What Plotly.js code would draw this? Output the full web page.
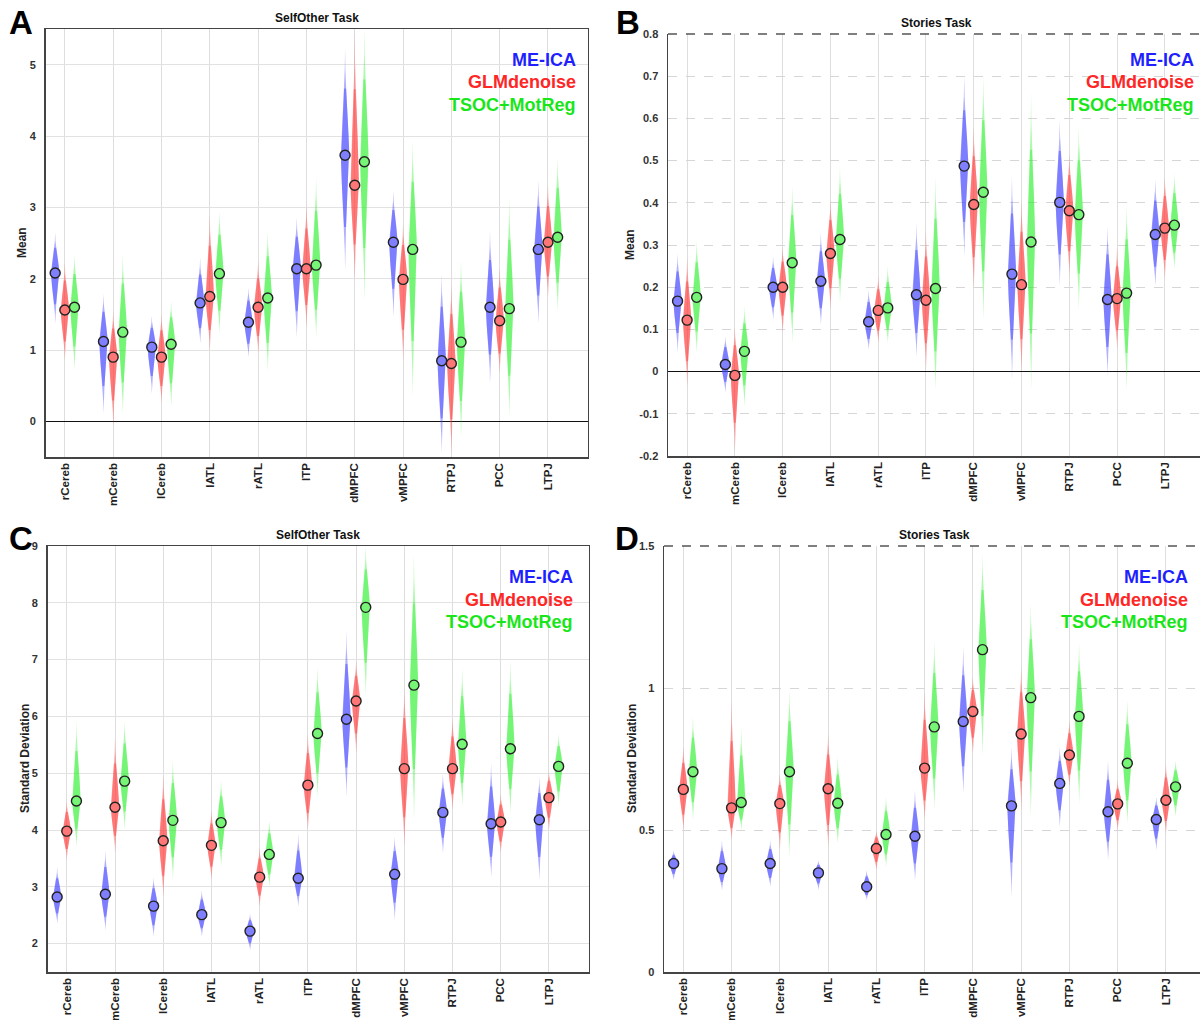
<!DOCTYPE html>
<html>
<head>
<meta charset="utf-8">
<script src="https://cdn.plot.ly/plotly-3.0.1.min.js"></script>
<style>html,body{margin:0;padding:0;overflow:hidden;background:#fff;}#chart{width:1210px;height:1020px;}</style>
</head>
<body>
<div id="chart"></div>
<script>
// ---------- DATA ----------
const regions = ['rCereb','mCereb','lCereb','lATL','rATL','lTP','dMPFC','vMPFC','RTPJ','PCC','LTPJ'];
const methods = ['ME-ICA','GLMdenoise','TSOC+MotReg'];

// Panel A: SelfOther Task, Mean
const A_meica_mean = [2.08,1.12,1.04,1.66,1.39,2.14,3.73,2.51,0.85,1.60,2.41];
const A_meica_hi   = [2.65,1.79,1.48,2.30,1.88,2.86,5.24,3.24,2.07,2.67,3.38];
const A_meica_lo   = [1.37,0.11,0.39,1.09,0.90,1.18,2.11,1.46,-0.45,0.53,1.37];
const A_glm_mean   = [1.56,0.90,0.90,1.75,1.60,2.14,3.31,1.99,0.81,1.41,2.51];
const A_glm_hi     = [2.23,1.55,1.51,2.90,2.25,3.05,5.48,2.77,1.93,2.16,3.33];
const A_glm_lo     = [0.85,-0.08,0.25,0.99,0.95,1.32,1.97,0.85,-0.45,0.67,1.74];
const A_tsoc_mean  = [1.60,1.25,1.08,2.07,1.73,2.19,3.64,2.41,1.11,1.58,2.58];
const A_tsoc_hi    = [2.35,2.35,1.69,2.95,2.67,3.42,5.50,3.94,2.25,3.14,3.70];
const A_tsoc_lo    = [0.71,0.11,0.20,1.23,0.71,1.18,1.69,0.34,-0.22,0.06,1.55];

// Panel B: Stories Task, Mean
const B_meica_mean = [0.167,0.017,0.200,0.214,0.118,0.182,0.487,0.231,0.401,0.171,0.325];
const B_meica_hi   = [0.280,0.084,0.273,0.329,0.194,0.353,0.700,0.463,0.597,0.344,0.455];
const B_meica_lo   = [0.045,-0.050,0.123,0.111,0.052,0.036,0.273,-0.019,0.202,-0.011,0.202];
const B_glm_mean   = [0.122,-0.009,0.200,0.280,0.145,0.169,0.396,0.206,0.381,0.173,0.340];
const B_glm_hi     = [0.270,0.107,0.297,0.408,0.226,0.336,0.580,0.408,0.518,0.297,0.463];
const B_glm_lo     = [-0.035,-0.190,0.092,0.147,0.068,0.005,0.194,-0.003,0.226,0.052,0.218];
const B_tsoc_mean  = [0.176,0.048,0.258,0.313,0.151,0.197,0.425,0.307,0.372,0.186,0.347];
const B_tsoc_hi    = [0.310,0.155,0.440,0.487,0.250,0.463,0.700,0.660,0.580,0.392,0.470];
const B_tsoc_lo    = [0.045,-0.082,0.068,0.163,0.068,-0.043,0.123,-0.043,0.147,-0.043,0.242];

// Panel C: SelfOther Task, Standard Deviation
const C_meica_mean = [2.82,2.87,2.66,2.51,2.22,3.15,5.95,3.22,4.31,4.11,4.18];
const C_meica_hi   = [3.35,3.64,3.17,2.94,2.53,3.94,7.52,3.88,4.99,5.17,4.94];
const C_meica_lo   = [2.35,2.23,2.12,2.12,1.88,2.65,4.58,2.41,3.59,3.17,3.12];
const C_glm_mean   = [3.98,4.40,3.81,3.73,3.17,4.79,6.27,5.08,5.08,4.14,4.57];
const C_glm_hi     = [4.52,5.64,4.99,4.35,3.70,5.70,6.99,6.52,5.99,4.64,5.05];
const C_glm_lo     = [3.47,3.59,2.82,3.12,2.65,4.00,5.35,3.70,4.35,3.59,4.00];
const C_tsoc_mean  = [4.51,4.86,4.17,4.13,3.57,5.70,7.92,6.55,5.51,5.43,5.12];
const C_tsoc_hi    = [5.93,5.93,5.23,4.88,4.17,6.87,9.00,8.87,6.87,6.99,5.70];
const C_tsoc_lo    = [3.70,4.00,3.12,3.35,3.00,4.58,6.35,4.17,4.41,4.29,4.41];

// Panel D: Stories Task, Standard Deviation
const D_meica_mean = [0.382,0.364,0.382,0.349,0.300,0.478,0.882,0.585,0.664,0.564,0.537];
const D_meica_hi   = [0.429,0.464,0.464,0.394,0.358,0.640,1.145,0.793,0.793,0.746,0.617];
const D_meica_lo   = [0.323,0.288,0.300,0.288,0.253,0.323,0.628,0.264,0.511,0.394,0.429];
const D_glm_mean   = [0.643,0.578,0.593,0.645,0.435,0.718,0.917,0.838,0.764,0.592,0.605];
const D_glm_hi     = [0.793,0.957,0.699,0.840,0.499,0.993,1.040,1.075,0.887,0.675,0.734];
const D_glm_lo     = [0.499,0.464,0.429,0.440,0.358,0.534,0.769,0.570,0.652,0.499,0.487];
const D_tsoc_mean  = [0.705,0.597,0.705,0.594,0.484,0.863,1.135,0.966,0.900,0.735,0.652];
const D_tsoc_hi    = [0.899,0.863,0.993,0.758,0.617,1.169,1.474,1.298,1.157,0.957,0.746];
const D_tsoc_lo    = [0.534,0.499,0.405,0.452,0.370,0.570,0.758,0.546,0.593,0.523,0.546];

// ---------- STYLE ----------
const FW = 1210, FH = 1020;
const FONT = 'Liberation Sans, Arial, Helvetica, sans-serif';
const outerFill = ['rgba(70,70,255,0.42)','rgba(255,60,60,0.42)','rgba(40,240,40,0.38)'];
const innerFill = ['rgba(70,70,255,0.48)','rgba(255,60,60,0.48)','rgba(40,240,40,0.42)'];
const markerFill = ['rgb(128,128,255)','rgb(255,118,118)','rgb(118,245,118)'];
const legendColor = ['#1f1fff','#ff2626','#19e619'];
const offsets = [-0.2, 0, 0.2];
const HALF = 0.085;

// Outline of one violin; umax < 1 draws only the central part (core) of the same shape.
function outline(xc, m, lo, hi, umax) {
  const xs = [], ys = [];
  const n = 30;
  const prof = u => Math.max(0, Math.exp(-3.6*u*u) - Math.exp(-3.6)*u);
  const pts = [];
  for (let i = n; i >= 0; i--) { const u = umax*i/n; pts.push([m - u*(m-lo), prof(u)]); }
  for (let i = 1; i <= n; i++) { const u = umax*i/n; pts.push([m + u*(hi-m), prof(u)]); }
  pts.forEach(p => { xs.push(xc + HALF*p[1]); ys.push(p[0]); });
  for (let i = pts.length-1; i >= 0; i--) { xs.push(xc - HALF*pts[i][1]); ys.push(pts[i][0]); }
  xs.push(null); ys.push(null);
  return [xs, ys];
}

const panels = [
  {sfx:'',  series:[[A_meica_mean,A_meica_lo,A_meica_hi],[A_glm_mean,A_glm_lo,A_glm_hi],[A_tsoc_mean,A_tsoc_lo,A_tsoc_hi]],
   px:[45.5,587.6], py:[29,457], yr:[-0.5,5.5], ytv:[0,1,2,3,4,5], ytt:['0','1','2','3','4','5'],
   title:'SelfOther Task', tY:18, ylab:'Mean', ylX:22, letter:'A', lx:21, ly:22, legR:578, legY:[60,82,105], zero:true, dashed:false},
  {sfx:'2', series:[[B_meica_mean,B_meica_lo,B_meica_hi],[B_glm_mean,B_glm_lo,B_glm_hi],[B_tsoc_mean,B_tsoc_lo,B_tsoc_hi]],
   px:[668,1204], py:[34,456], yr:[-0.2,0.8], ytv:[-0.2,-0.1,0,0.1,0.2,0.3,0.4,0.5,0.6,0.7,0.8], ytt:['-0.2','-0.1','0','0.1','0.2','0.3','0.4','0.5','0.6','0.7','0.8'],
   title:'Stories Task', tY:23, ylab:'Mean', ylX:630, letter:'B', lx:628, ly:22, legR:1196, legY:[60,82,105], zero:true, dashed:true},
  {sfx:'3', series:[[C_meica_mean,C_meica_lo,C_meica_hi],[C_glm_mean,C_glm_lo,C_glm_hi],[C_tsoc_mean,C_tsoc_lo,C_tsoc_hi]],
   px:[47.5,588.5], py:[546,972], yr:[1.5,9], ytv:[2,3,4,5,6,7,8,9], ytt:['2','3','4','5','6','7','8','9'],
   title:'SelfOther Task', tY:535, ylab:'Standard Deviation', ylX:25, letter:'C', lx:21, ly:538, legR:575, legY:[577,600,622], zero:false, dashed:false},
  {sfx:'4', series:[[D_meica_mean,D_meica_lo,D_meica_hi],[D_glm_mean,D_glm_lo,D_glm_hi],[D_tsoc_mean,D_tsoc_lo,D_tsoc_hi]],
   px:[664,1205.5], py:[546,972], yr:[0,1.5], ytv:[0,0.5,1,1.5], ytt:['0','0.5','1','1.5'],
   title:'Stories Task', tY:535, ylab:'Standard Deviation', ylX:632, letter:'D', lx:627, ly:538, legR:1190, legY:[577,600,622], zero:false, dashed:true}
];

const traces = [];
const layout = {
  width: FW, height: FH, margin:{l:0,r:0,t:0,b:0}, showlegend:false,
  paper_bgcolor:'#fff', plot_bgcolor:'#fff', font:{family:FONT, color:'#222'},
  annotations:[], shapes:[]
};
const xi = regions.map((_, i) => i);

panels.forEach(p => {
  const xa = 'x'+p.sfx, ya = 'y'+p.sfx;
  p.series.forEach((s, k) => {
    const [mean, lo, hi] = s;
    [[1.0, outerFill[k]], [0.62, innerFill[k]]].forEach(([umax, col]) => {
      let X = [], Y = [];
      mean.forEach((m, i) => { const o = outline(xi[i]+offsets[k], m, lo[i], hi[i], umax); X = X.concat(o[0]); Y = Y.concat(o[1]); });
      traces.push({type:'scatter', mode:'lines', x:X, y:Y, fill:'toself', fillcolor:col,
        line:{width:0, color:'rgba(0,0,0,0)'}, hoverinfo:'skip', xaxis:xa, yaxis:ya, name:methods[k]});
    });
  });
  p.series.forEach((s, k) => {
    traces.push({type:'scatter', mode:'markers', x:xi.map(i => i+offsets[k]), y:s[0], xaxis:xa, yaxis:ya, name:methods[k],
      marker:{size:10, color:markerFill[k], line:{width:1.4, color:'#222'}}, cliponaxis:false});
  });
  const xkey = 'xaxis'+p.sfx, ykey = 'yaxis'+p.sfx;
  layout[xkey] = {
    domain:[p.px[0]/FW, p.px[1]/FW], anchor:ya, range:[-0.4,10.82],
    tickmode:'array', tickvals:xi, ticktext:regions, tickangle:-90, ticks:'', ticklabelstandoff:0,
    tickfont:{size:11.5, family:FONT, weight:'bold', color:'#222'},
    showgrid:true, gridcolor:'#dedede', gridwidth:1, zeroline:false,
    showline:true, linecolor:'#444', linewidth:1.5, mirror:!p.dashed, fixedrange:true
  };
  layout[ykey] = {
    domain:[1-p.py[1]/FH, 1-p.py[0]/FH], anchor:xa, range:p.yr,
    tickmode:'array', tickvals:p.ytv, ticktext:p.ytt, ticks:'', ticklabelstandoff:6,
    tickfont:{size:11, family:FONT, weight:'bold', color:'#333'},
    showgrid:true, gridcolor:p.dashed?'#d6d6d6':'#e2e2e2', griddash:p.dashed?'dash':'solid', gridwidth:1,
    zeroline:p.zero, zerolinecolor:'#111', zerolinewidth:1.5,
    showline:true, linecolor:'#444', linewidth:1.5, mirror:!p.dashed, fixedrange:true
  };
  if (p.dashed) {
    layout.shapes.push({type:'line', xref:xa+' domain', yref:ya+' domain', x0:0, x1:1, y0:1, y1:1,
      line:{color:'#555', width:1.5, dash:'dash'}});
  }
  const cx = (p.px[0]+p.px[1])/2;
  layout.annotations.push({xref:'paper', yref:'paper', x:cx/FW, y:1-p.tY/FH, text:p.title, showarrow:false,
    xanchor:'center', yanchor:'middle', font:{size:12, family:FONT, weight:'bold', color:'#111'}});
  layout.annotations.push({xref:'paper', yref:'paper', x:p.ylX/FW, y:1-((p.py[0]+p.py[1])/2)/FH, text:p.ylab, showarrow:false,
    textangle:-90, xanchor:'center', yanchor:'middle', font:{size:12, family:FONT, weight:'bold', color:'#222'}});
  layout.annotations.push({xref:'paper', yref:'paper', x:p.lx/FW, y:1-p.ly/FH,
    text:p.letter, showarrow:false, xanchor:'center', yanchor:'middle', font:{size:33, family:FONT, weight:'bold', color:'#000'}});
  methods.forEach((mname, k) => {
    layout.annotations.push({xref:'paper', yref:'paper', x:p.legR/FW, y:1-p.legY[k]/FH, text:mname, showarrow:false,
      xanchor:'right', yanchor:'middle', font:{size:18, family:FONT, weight:'bold', color:legendColor[k]}});
  });
});

Plotly.newPlot('chart', traces, layout, {staticPlot:true, displayModeBar:false});
</script>
</body>
</html>
